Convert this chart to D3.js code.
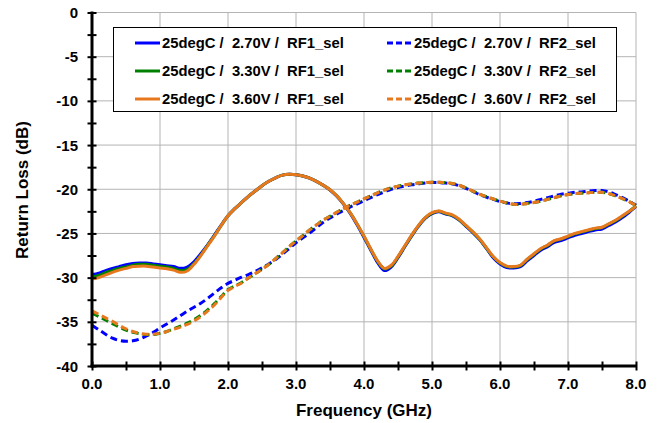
<!DOCTYPE html>
<html>
<head>
<meta charset="utf-8">
<script src="https://cdn.jsdelivr.net/npm/d3@7"></script>
<style>
  body { margin: 0; background: #fff; }
  text { font-family: "Liberation Sans", Arial, sans-serif; font-weight: bold; fill: #000; }
</style>
</head>
<body>
<div id="chart"></div>
<script>
// data (step 0.1 GHz)
let freq = d3.range(81).map(i => +(i * 0.1).toFixed(1));

let rf1_270 = [-29.65,-29.5,-29.2,-28.95,-28.75,-28.55,-28.4,-28.35,-28.35,-28.45,
  -28.55,-28.65,-28.75,-28.95,-28.8,-28.2,-27.3,-26.3,-25.2,-24.05,
  -23.0,-22.2,-21.5,-20.8,-20.2,-19.6,-19.1,-18.7,-18.4,-18.3,
  -18.35,-18.5,-18.75,-19.1,-19.55,-20.1,-20.8,-21.7,-22.75,-24.05,
  -25.45,-26.9,-28.3,-29.2,-28.8,-27.75,-26.5,-25.3,-24.2,-23.3,
  -22.75,-22.55,-22.8,-23.0,-23.5,-24.2,-24.9,-25.7,-26.7,-27.75,
  -28.45,-28.85,-28.9,-28.75,-28.1,-27.5,-26.9,-26.5,-26.0,-25.8,
  -25.5,-25.2,-25.0,-24.8,-24.6,-24.5,-24.1,-23.7,-23.2,-22.6,-21.95];

let rf1_330 = [-29.9,-29.75,-29.45,-29.2,-28.95,-28.8,-28.6,-28.5,-28.5,-28.6,
  -28.7,-28.8,-28.95,-29.2,-29.05,-28.4,-27.45,-26.35,-25.25,-24.1,
  -23.0,-22.2,-21.5,-20.8,-20.2,-19.6,-19.1,-18.7,-18.4,-18.3,
  -18.35,-18.5,-18.75,-19.1,-19.55,-20.05,-20.75,-21.65,-22.7,-23.95,
  -25.35,-26.8,-28.15,-29.0,-28.7,-27.65,-26.45,-25.25,-24.15,-23.25,
  -22.7,-22.5,-22.75,-22.95,-23.45,-24.15,-24.85,-25.65,-26.65,-27.65,
  -28.35,-28.75,-28.8,-28.65,-27.95,-27.35,-26.75,-26.35,-25.85,-25.65,
  -25.35,-25.05,-24.85,-24.65,-24.45,-24.35,-23.95,-23.55,-23.05,-22.5,-21.9];

let rf1_360 = [-30.15,-30.0,-29.7,-29.4,-29.15,-28.95,-28.75,-28.7,-28.7,-28.8,
  -28.9,-29.0,-29.15,-29.4,-29.25,-28.5,-27.5,-26.4,-25.3,-24.1,
  -23.0,-22.2,-21.5,-20.8,-20.2,-19.6,-19.1,-18.7,-18.4,-18.3,
  -18.35,-18.5,-18.75,-19.1,-19.55,-20.05,-20.75,-21.65,-22.7,-23.95,
  -25.3,-26.75,-28.1,-28.95,-28.6,-27.6,-26.4,-25.2,-24.1,-23.2,
  -22.65,-22.45,-22.7,-22.9,-23.4,-24.1,-24.8,-25.6,-26.6,-27.6,
  -28.3,-28.7,-28.75,-28.6,-27.9,-27.3,-26.7,-26.3,-25.8,-25.6,
  -25.3,-25.0,-24.8,-24.6,-24.4,-24.3,-23.9,-23.5,-23.0,-22.5,-21.9];

let rf2_270 = [-35.4,-35.9,-36.4,-36.85,-37.1,-37.2,-37.15,-36.95,-36.6,-36.2,
  -35.7,-35.25,-34.8,-34.3,-33.8,-33.35,-32.9,-32.35,-31.75,-31.15,
  -30.65,-30.3,-29.95,-29.65,-29.3,-28.9,-28.45,-27.95,-27.35,-26.7,
  -26.05,-25.5,-24.95,-24.35,-23.75,-23.25,-22.8,-22.4,-22.0,-21.65,
  -21.3,-20.95,-20.6,-20.3,-20.0,-19.8,-19.65,-19.5,-19.4,-19.3,
  -19.25,-19.25,-19.3,-19.4,-19.6,-19.9,-20.25,-20.6,-20.9,-21.15,
  -21.4,-21.55,-21.65,-21.6,-21.5,-21.35,-21.15,-20.95,-20.75,-20.55,
  -20.45,-20.35,-20.3,-20.2,-20.15,-20.15,-20.3,-20.6,-20.95,-21.35,-21.8];

let rf2_330 = [-34.05,-34.4,-34.8,-35.2,-35.6,-35.95,-36.2,-36.35,-36.45,-36.45,
  -36.3,-36.1,-35.8,-35.5,-35.15,-34.75,-34.25,-33.65,-32.95,-32.15,
  -31.35,-30.95,-30.55,-30.05,-29.55,-29.05,-28.5,-27.85,-27.2,-26.5,
  -25.85,-25.25,-24.6,-24.05,-23.5,-23.05,-22.6,-22.2,-21.8,-21.45,
  -21.1,-20.75,-20.4,-20.1,-19.85,-19.65,-19.5,-19.4,-19.3,-19.25,
  -19.2,-19.2,-19.25,-19.35,-19.55,-19.85,-20.2,-20.55,-20.85,-21.1,
  -21.35,-21.55,-21.7,-21.7,-21.6,-21.5,-21.35,-21.15,-20.95,-20.75,
  -20.6,-20.5,-20.45,-20.4,-20.35,-20.35,-20.5,-20.75,-21.05,-21.4,-21.85];

let rf2_360 = [-33.75,-34.15,-34.55,-34.95,-35.4,-35.8,-36.1,-36.3,-36.4,-36.4,
  -36.3,-36.1,-35.85,-35.6,-35.3,-34.9,-34.4,-33.8,-33.1,-32.25,
  -31.45,-31.0,-30.6,-30.05,-29.55,-29.05,-28.5,-27.85,-27.2,-26.5,
  -25.85,-25.25,-24.6,-24.05,-23.5,-23.05,-22.6,-22.2,-21.8,-21.45,
  -21.1,-20.75,-20.4,-20.1,-19.85,-19.65,-19.5,-19.4,-19.3,-19.25,
  -19.2,-19.2,-19.25,-19.35,-19.55,-19.85,-20.2,-20.55,-20.85,-21.1,
  -21.35,-21.55,-21.7,-21.7,-21.6,-21.5,-21.35,-21.15,-20.95,-20.75,
  -20.6,-20.5,-20.45,-20.4,-20.35,-20.35,-20.5,-20.75,-21.05,-21.4,-21.85];

let xTicks = [0, 1, 2, 3, 4, 5, 6, 7, 8];
let yTicks = [0, -5, -10, -15, -20, -25, -30, -35, -40];

// series in excel order (row-major legend)
let series = [
  {name: "25degC /  2.70V /  RF1_sel", values: rf1_270, color: "#0000ff", dash: null},
  {name: "25degC /  2.70V /  RF2_sel", values: rf2_270, color: "#0000ff", dash: "7,4"},
  {name: "25degC /  3.30V /  RF1_sel", values: rf1_330, color: "#008000", dash: null},
  {name: "25degC /  3.30V /  RF2_sel", values: rf2_330, color: "#008000", dash: "7,4"},
  {name: "25degC /  3.60V /  RF1_sel", values: rf1_360, color: "#e8781e", dash: null},
  {name: "25degC /  3.60V /  RF2_sel", values: rf2_360, color: "#e8781e", dash: "7,4"}
];

let W = 662, H = 423;
let pLeft = 92, pRight = 636, pTop = 12.5, pBottom = 366;

let svg = d3.select("#chart").append("svg")
  .attr("width", W)
  .attr("height", H);

let x = d3.scaleLinear().domain([0, 8]).range([pLeft, pRight]);
let y = d3.scaleLinear().domain([-40, 0]).range([pBottom, pTop]);

// grid
svg.append("g").selectAll("line").data(xTicks.slice(1)).join("line")
  .attr("x1", d => x(d)).attr("x2", d => x(d))
  .attr("y1", pTop).attr("y2", pBottom)
  .attr("stroke", "#b4b4b4").attr("stroke-width", 1);
svg.append("g").selectAll("line").data(yTicks.slice(0, -1)).join("line")
  .attr("x1", pLeft).attr("x2", pRight)
  .attr("y1", d => y(d)).attr("y2", d => y(d))
  .attr("stroke", "#b4b4b4").attr("stroke-width", 1);

// curves
let line = d3.line()
  .x((d, i) => x(freq[i]))
  .y(d => y(d))
  .curve(d3.curveCatmullRom);

svg.append("g").selectAll("path").data(series).join("path")
  .attr("d", d => line(d.values))
  .attr("fill", "none")
  .attr("stroke", d => d.color)
  .attr("stroke-width", 3)
  .attr("stroke-dasharray", d => d.dash);

// axes: thick lines with ticks crossing the axis
let yAxis = d3.axisLeft(y).tickValues(d3.range(-40, 0.1, 2.5)).tickSizeInner(9).tickSizeOuter(0).tickFormat("");
let gy = svg.append("g").attr("transform", "translate(" + (pLeft + 4.5) + ",0)").call(yAxis);
gy.select(".domain").remove();
gy.selectAll("line").attr("stroke", "#000").attr("stroke-width", 2);

let xAxis = d3.axisBottom(x).tickValues(d3.range(0, 8.01, 0.5)).tickSizeInner(9).tickSizeOuter(0).tickFormat("");
let gx = svg.append("g").attr("transform", "translate(0," + (pBottom - 4.5) + ")").call(xAxis);
gx.select(".domain").remove();
gx.selectAll("line").attr("stroke", "#000").attr("stroke-width", 2);

svg.append("line").attr("x1", pLeft).attr("x2", pLeft).attr("y1", pTop - 1).attr("y2", pBottom + 1.5)
  .attr("stroke", "#000").attr("stroke-width", 3);
svg.append("line").attr("x1", pLeft - 1.5).attr("x2", pRight + 1).attr("y1", pBottom).attr("y2", pBottom)
  .attr("stroke", "#000").attr("stroke-width", 3);

// tick labels
svg.append("g").selectAll("text").data(yTicks).join("text")
  .attr("x", 78).attr("y", d => y(d) + 5.5)
  .attr("text-anchor", "end")
  .style("font-size", "15px")
  .text(d => d);

svg.append("g").selectAll("text").data(xTicks).join("text")
  .attr("x", d => x(d)).attr("y", 389)
  .attr("text-anchor", "middle")
  .style("font-size", "15px")
  .text(d => d.toFixed(1));

// axis titles
svg.append("text")
  .attr("x", 364).attr("y", 416)
  .attr("text-anchor", "middle")
  .style("font-size", "17px")
  .text("Frequency (GHz)");

svg.append("text")
  .attr("transform", "translate(28,190) rotate(-90)")
  .attr("text-anchor", "middle")
  .style("font-size", "17px")
  .text("Return Loss (dB)");

// legend
let legend = svg.append("g");
legend.append("rect")
  .attr("x", 113.5).attr("y", 27.5)
  .attr("width", 503).attr("height", 84)
  .attr("fill", "#fff").attr("stroke", "#000").attr("stroke-width", 1);

let items = legend.selectAll("g.item").data(series).join("g")
  .attr("class", "item")
  .attr("transform", (d, i) => "translate(" + (i % 2 === 0 ? 135 : 387) + "," + (43 + Math.floor(i / 2) * 28) + ")");

items.append("line")
  .attr("x1", 0).attr("x2", 25).attr("y1", 0).attr("y2", 0)
  .attr("stroke", d => d.color).attr("stroke-width", 3)
  .attr("stroke-dasharray", d => d.dash ? "6,3" : null);

items.append("text")
  .attr("x", 27).attr("y", 5)
  .style("font-size", "14.8px")
  .style("white-space", "pre")
  .text(d => d.name);
</script>
</body>
</html>
